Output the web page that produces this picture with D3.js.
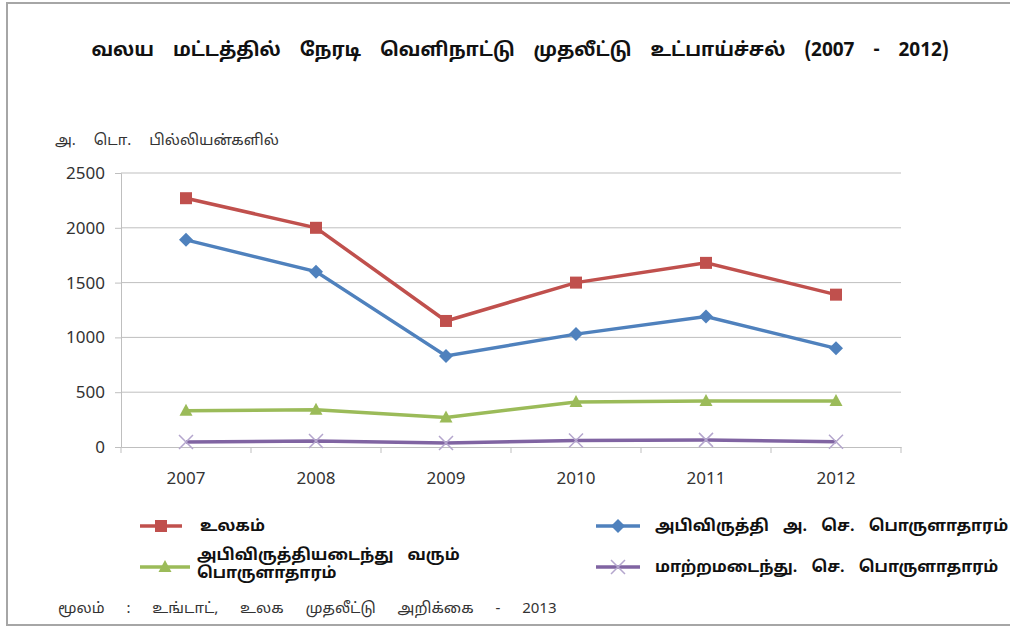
<!DOCTYPE html>
<html>
<head>
<meta charset="utf-8">
<script src="https://cdn.jsdelivr.net/npm/d3@7"></script>
<style>
  body { margin: 0; background: #fff; }
  svg text { font-family: "Noto Sans Tamil", "Lohit Tamil", "Noto Sans", "DejaVu Sans", sans-serif; }
</style>
</head>
<body>
<div id="chart"></div>
<script>
const years = ["2007", "2008", "2009", "2010", "2011", "2012"];
const world = [2270, 2000, 1150, 1500, 1680, 1390];
const developing = [1890, 1600, 830, 1030, 1190, 900];
const emerging = [330, 340, 270, 410, 420, 420];
const transition = [45, 55, 37, 60, 65, 48];
const yTicks = [0, 500, 1000, 1500, 2000, 2500];

const titleText = "வலய மட்டத்தில் நேரடி வெளிநாட்டு முதலீட்டு உட்பாய்ச்சல் (2007 - 2012)";
const unitText = "அ. டொ. பில்லியன்களில்";
const sourceText = "மூலம் : உங்டாட், உலக முதலீட்டு அறிக்கை - 2013";

const series = [
    { name: "உலகம்", values: world, color: "#c0504d", marker: "square" },
    { name: "அபிவிருத்தி அ. செ. பொருளாதாரம்", values: developing, color: "#4f81bd", marker: "diamond" },
    { name: ["அபிவிருத்தியடைந்து வரும்", "பொருளாதாரம்"], values: emerging, color: "#9bbb59", marker: "triangle" },
    { name: "மாற்றமடைந்து. செ. பொருளாதாரம்", values: transition, color: "#8064a2", marker: "x" }
];

const W = 1010, H = 629;
const margin = { top: 173, left: 121, right: 109, bottom: 182 };
const width = W - margin.left - margin.right;
const height = H - margin.top - margin.bottom;

const root = d3.select("#chart").append("svg")
    .attr("width", W)
    .attr("height", H);

// frame
root.append("path")
    .attr("d", `M1010,3 H7 V625 H1010`)
    .attr("fill", "none")
    .attr("stroke", "#a6a6a6")
    .attr("stroke-width", 2);

root.append("text")
    .attr("x", 520).attr("y", 56)
    .attr("text-anchor", "middle")
    .attr("font-size", 19).attr("font-weight", "bold")
    .attr("word-spacing", 14)
    .attr("fill", "#111")
    .text(titleText);

root.append("text")
    .attr("x", 55).attr("y", 145)
    .attr("font-size", 15)
    .attr("word-spacing", 14)
    .attr("fill", "#333")
    .text(unitText);

const svg = root.append("g")
    .attr("transform", `translate(${margin.left},${margin.top})`);

const x = d3.scaleBand().domain(years).range([0, width]);
const y = d3.scaleLinear().domain([0, 2500]).range([height, 0]);

svg.append("g")
    .selectAll("line")
    .data(yTicks.slice(1))
    .join("line")
    .attr("x1", 0).attr("x2", width)
    .attr("y1", d => y(d)).attr("y2", d => y(d))
    .attr("stroke", "#bfbfbf");

const yAxis = svg.append("g")
    .call(d3.axisLeft(y).tickValues(yTicks).tickFormat(d3.format("d")).tickSize(6).tickPadding(10));
yAxis.select(".domain").attr("stroke", "#bfbfbf");
yAxis.selectAll(".tick line").attr("stroke", "#bfbfbf");
yAxis.selectAll(".tick text").attr("font-size", 17).attr("fill", "#333")
    .attr("font-family", "Calibri, Carlito, 'Liberation Sans', sans-serif");

const xAxis = svg.append("g")
    .attr("transform", `translate(0,${height})`)
    .call(d3.axisBottom(x).tickSize(0).tickPadding(25));
xAxis.select(".domain").attr("stroke", "#bfbfbf");
xAxis.selectAll(".tick text").attr("font-size", 17).attr("fill", "#333")
    .attr("font-family", "Calibri, Carlito, 'Liberation Sans', sans-serif");
xAxis.selectAll(".sep")
    .data(years.map(d => x(d)).concat([width]))
    .join("line")
    .attr("class", "sep")
    .attr("x1", d => d).attr("x2", d => d)
    .attr("y1", 0).attr("y2", 6)
    .attr("stroke", "#bfbfbf");

const cx = d => x(d) + x.bandwidth() / 2;
const line = d3.line().x((d, i) => cx(years[i])).y(d => y(d));

function drawMarker(g, type, color) {
    if (type === "square") {
        g.append("rect").attr("x", -6).attr("y", -6).attr("width", 12).attr("height", 12).attr("fill", color);
    } else if (type === "diamond") {
        g.append("path").attr("d", "M0,-7L7,0L0,7L-7,0Z").attr("fill", color);
    } else if (type === "triangle") {
        g.append("path").attr("d", "M0,-7L6.5,5L-6.5,5Z").attr("fill", color);
    } else {
        g.append("path").attr("d", "M-7,-7L7,7M-7,7L7,-7").attr("stroke", "#b4a6cd").attr("stroke-width", 1.5);
    }
}

series.slice().reverse().forEach(s => {
    svg.append("path")
        .datum(s.values)
        .attr("d", line)
        .attr("fill", "none")
        .attr("stroke", s.color)
        .attr("stroke-width", 3.5);
    s.values.forEach((v, i) => {
        const g = svg.append("g").attr("transform", `translate(${cx(years[i])},${y(v)})`);
        drawMarker(g, s.marker, s.color);
    });
});

// legend
const legendPos = [[140, 526, 42, 60], [596, 526, 44, 59], [140, 567, 50, 57], [596, 567, 44, 59]];
series.forEach((s, i) => {
    const [lx, ly, len, tx] = legendPos[i];
    const g = root.append("g").attr("transform", `translate(${lx},${ly})`);
    g.append("line").attr("x1", 0).attr("x2", len).attr("y1", 0).attr("y2", 0)
        .attr("stroke", s.color).attr("stroke-width", 3.5);
    const m = g.append("g").attr("transform", `translate(${len / 2},0)`);
    drawMarker(m, s.marker, s.color);
    const t = g.append("text").attr("x", tx).attr("font-size", 16).attr("fill", "#111")
        .attr("font-weight", "bold").attr("word-spacing", 10);
    if (Array.isArray(s.name)) {
        t.attr("y", -7);
        s.name.forEach((n, k) => t.append("tspan").attr("x", tx).attr("dy", k === 0 ? 0 : 18).text(n));
    } else {
        t.attr("y", 5).text(s.name);
    }
});

root.append("text")
    .attr("x", 58).attr("y", 613)
    .attr("font-size", 15)
    .attr("word-spacing", 18)
    .attr("fill", "#333")
    .text(sourceText);
</script>
</body>
</html>
